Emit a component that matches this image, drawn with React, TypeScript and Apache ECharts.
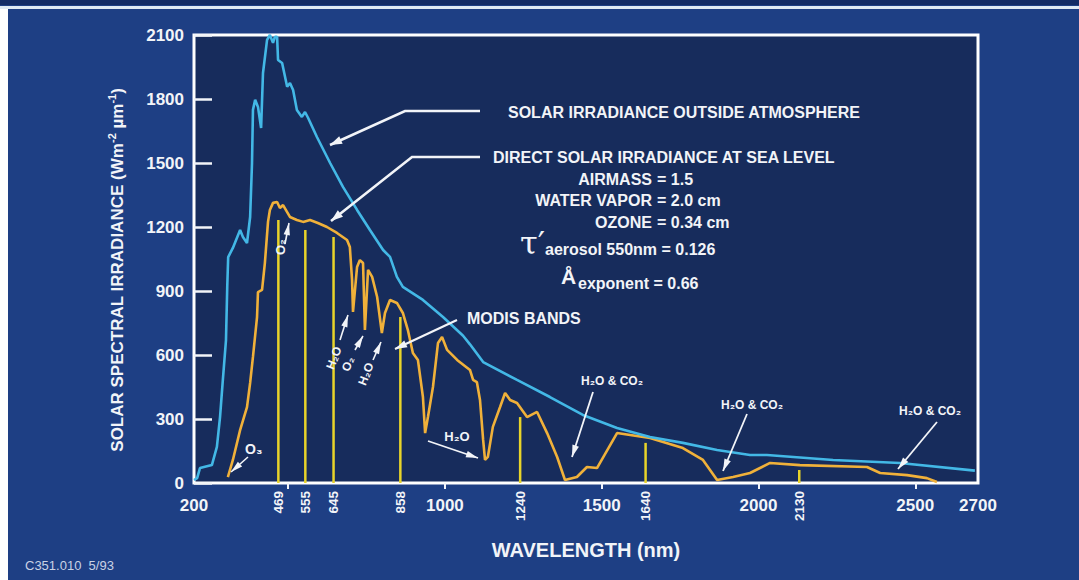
import React, { useEffect, useRef } from "react";
import * as echarts from "echarts";

// Solar irradiance outside the atmosphere (W m-2 µm-1)
const waveOutside = [200, 210, 219, 257, 273, 283, 292, 302, 306, 309, 324, 347, 356, 369, 379, 385, 388, 395, 404, 414, 420, 433, 442, 452, 458, 465, 468, 481, 497, 506, 516, 528, 544, 554, 564, 592, 634, 675, 720, 761, 803, 825, 847, 866, 930, 994, 1058, 1080, 1122, 1230, 1335, 1440, 1549, 1654, 1759, 1868, 1973, 2027, 2238, 2451, 2690];
const irrOutside = [14, 23, 70, 84, 169, 309, 483, 670, 919, 1059, 1102, 1186, 1153, 1125, 1247, 1500, 1749, 1796, 1763, 1664, 1922, 2077, 2100, 2063, 2091, 2091, 1983, 1969, 1857, 1875, 1842, 1749, 1716, 1739, 1711, 1622, 1500, 1388, 1280, 1186, 1092, 1060, 966, 919, 858, 778, 690, 650, 567, 483, 403, 319, 258, 216, 188, 155, 131, 131, 108, 94, 58];

// Direct solar irradiance at sea level
const waveSea = [308, 324, 347, 369, 379, 388, 401, 404, 417, 426, 436, 442, 452, 465, 474, 484, 497, 506, 528, 548, 570, 595, 624, 656, 688, 697, 704, 707, 720, 729, 739, 745, 755, 768, 784, 799, 809, 825, 847, 866, 882, 898, 914, 930, 937, 946, 962, 978, 991, 1007, 1039, 1080, 1090, 1102, 1112, 1122, 1128, 1137, 1153, 1176, 1192, 1208, 1230, 1262, 1294, 1326, 1358, 1383, 1421, 1453, 1485, 1549, 1654, 1759, 1823, 1868, 1919, 1973, 2037, 2132, 2346, 2388, 2474, 2537, 2569];
const irrSea = [28, 108, 248, 356, 469, 591, 778, 895, 905, 1031, 1224, 1280, 1313, 1317, 1289, 1303, 1270, 1247, 1233, 1224, 1233, 1219, 1200, 1172, 1139, 1106, 952, 802, 1013, 1045, 1031, 717, 999, 966, 872, 703, 797, 858, 844, 797, 717, 609, 577, 403, 234, 309, 450, 656, 684, 624, 577, 530, 483, 473, 389, 202, 108, 122, 263, 356, 422, 389, 375, 309, 333, 234, 122, 14, 28, 75, 70, 234, 211, 164, 108, 14, 28, 47, 94, 84, 75, 47, 37, 23, 5];

// MODIS band centres (nm) and the height of each band marker
const bandWave = [469, 555, 645, 858, 1240, 1640, 2130];
const bandTop = [1233, 1186, 1153, 778, 309, 188, 61];

// Axis ticks
const yTicks = { min: 0, max: 2100, interval: 300 };
const xLabelMain = [200, 1000, 1500, 2000, 2500, 2700];
const xTickMain = [500, 1000, 1500, 2000, 2500];

const FONT = '"Liberation Sans", Arial, Helvetica, sans-serif';
const WHITE = "#f2f4f8";
const plain = (v: number) => String(v);

function arrowHead(x1: number, y1: number, x2: number, y2: number, len = 11, hw = 3.2) {
  const dx = x2 - x1;
  const dy = y2 - y1;
  const d = Math.hypot(dx, dy) || 1;
  const ux = dx / d;
  const uy = dy / d;
  const bx = x2 - ux * len;
  const by = y2 - uy * len;
  return {
    type: "polygon",
    shape: { points: [[x2, y2], [bx - uy * hw, by + ux * hw], [bx + uy * hw, by - ux * hw]] },
    style: { fill: WHITE },
    z: 20,
  };
}

function arrow(points: number[][], width = 2) {
  const n = points.length;
  const [x1, y1] = points[n - 2];
  const [x2, y2] = points[n - 1];
  return [
    {
      type: "polyline",
      shape: { points },
      style: { stroke: WHITE, lineWidth: width, fill: null },
      z: 20,
    },
    arrowHead(x1, y1, x2, y2, 12, width + 1.6),
  ];
}

function label(text: string, x: number, y: number, size: number, opts: any = {}) {
  return {
    type: "text",
    x,
    y,
    rotation: opts.rotation || 0,
    z: 20,
    style: {
      text,
      fill: WHITE,
      font: `${opts.weight || "bold"} ${size}px ${opts.family || FONT}`,
      align: opts.align || "left",
      verticalAlign: "middle",
    },
  };
}

function buildGraphic() {
  const g: any[] = [];
  // page frame: dark band and light rule along the top, pale strip on the left
  g.push({ type: "rect", shape: { x: 0, y: 0, width: 1079, height: 5 }, style: { fill: "#132c66" }, z: 1 });
  g.push({ type: "rect", shape: { x: 0, y: 6, width: 1079, height: 3 }, style: { fill: "#dfeaf4" }, z: 1 });
  g.push({ type: "rect", shape: { x: 0, y: 9, width: 8, height: 571 }, style: { fill: "#ffffff" }, z: 1 });

  // curve captions
  g.push(label("SOLAR IRRADIANCE OUTSIDE ATMOSPHERE", 508, 112, 16));
  g.push(...arrow([[480, 111], [405, 111], [330, 145]], 2.6));
  g.push(label("DIRECT SOLAR IRRADIANCE AT SEA LEVEL", 493, 157, 16));
  g.push(...arrow([[480, 157], [412, 157], [331, 221]], 2.6));

  // atmospheric conditions
  const condNames = ["AIRMASS", "WATER VAPOR", "OZONE"];
  const condValues = ["= 1.5", "= 2.0 cm", "= 0.34 cm"];
  const condY = [179, 200, 222];
  condNames.forEach((n, i) => {
    g.push(label(n, 652, condY[i], 16, { align: "right" }));
    g.push(label(condValues[i], 657, condY[i], 16));
  });
  g.push(label("τ′", 520, 243, 32, { family: '"DejaVu Serif", "Liberation Serif", serif', weight: "normal" }));
  g.push(label("aerosol 550nm = 0.126", 545, 249, 16));
  g.push(label("Å", 561, 276, 21));
  g.push(label("exponent = 0.66", 578, 283, 16));

  // MODIS bands
  g.push(label("MODIS BANDS", 467, 318, 16));
  g.push(...arrow([[457, 320], [395, 349]], 2.2));

  // absorption features
  g.push(label("O₃", 245, 449, 14));
  g.push(...arrow([[248, 457], [231, 472]], 1.6));
  g.push(label("O₂", 280, 255, 13, { rotation: Math.PI / 2 }));
  g.push(...arrow([[285, 244], [289, 223]], 1.6));

  g.push(label("H₂O", 334, 358, 12, { rotation: 1.2, align: "center" }));
  g.push(...arrow([[340, 340], [348, 315]], 1.6));
  g.push(label("O₂", 348, 364, 12, { rotation: 1.2, align: "center" }));
  g.push(...arrow([[355, 350], [363, 336]], 1.6));
  g.push(label("H₂O", 366, 374, 12, { rotation: 1.2, align: "center" }));
  g.push(...arrow([[373, 360], [381, 342]], 1.6));

  g.push(label("H₂O", 457, 436, 13, { align: "center" }));
  g.push(...arrow([[428, 441], [478, 458]], 1.8));

  g.push(label("H₂O & CO₂", 612, 381, 12, { align: "center" }));
  g.push(...arrow([[593, 392], [572, 457]], 1.8));
  g.push(label("H₂O & CO₂", 752, 405, 12, { align: "center" }));
  g.push(...arrow([[747, 414], [723, 471]], 1.8));
  g.push(label("H₂O & CO₂", 930, 411, 12, { align: "center" }));
  g.push(...arrow([[937, 422], [898, 469]], 1.8));

  // drawing reference
  g.push({
    type: "text",
    x: 25,
    y: 565,
    style: { text: "C351.010  5/93", fill: "#c9d2e4", font: `13px ${FONT}`, verticalAlign: "middle" },
  });
  return g;
}

export default function App() {
  const ref = useRef<HTMLDivElement>(null);

  useEffect(() => {
    if (!ref.current) return;
    const chart = echarts.init(ref.current, null, { renderer: "svg" });

    const outside = waveOutside.map((w, i) => [w, irrOutside[i]]);
    const sea = waveSea.map((w, i) => [w, irrSea[i]]);
    const bands = bandWave.map((w, i) => [w, bandTop[i]]);

    const option: any = {
      animation: false,
      backgroundColor: "#1e3f84",
      grid: {
        left: 194,
        right: 101,
        top: 35,
        bottom: 97,
        show: true,
        borderColor: "#ffffff",
        borderWidth: 3,
        backgroundColor: "#172c5c",
      },
      xAxis: [
        {
          type: "value",
          min: 200,
          max: 2700,
          name: "WAVELENGTH (nm)",
          nameLocation: "middle",
          nameGap: 57,
          nameTextStyle: { color: WHITE, fontFamily: FONT, fontWeight: "bold", fontSize: 20 },
          axisLine: { show: false },
          splitLine: { show: false },
          axisTick: {
            show: true,
            customValues: xTickMain,
            length: 6,
            lineStyle: { color: WHITE, width: 2 },
          },
          axisLabel: {
            customValues: xLabelMain,
            formatter: plain,
            color: WHITE,
            fontFamily: FONT,
            fontWeight: "bold",
            fontSize: 17,
            margin: 14,
          },
        },
        {
          type: "value",
          min: 200,
          max: 2700,
          position: "bottom",
          axisLine: { show: false },
          splitLine: { show: false },
          axisTick: { show: false },
          axisLabel: {
            customValues: bandWave,
            formatter: plain,
            rotate: 90,
            color: WHITE,
            fontFamily: FONT,
            fontWeight: "bold",
            fontSize: 13.5,
            margin: 8,
          },
        },
      ],
      yAxis: {
        type: "value",
        min: yTicks.min,
        max: yTicks.max,
        interval: yTicks.interval,
        name: "SOLAR SPECTRAL IRRADIANCE (Wm{sup|-2} µm{sup|-1})",
        nameLocation: "middle",
        nameGap: 66,
        nameTextStyle: {
          color: WHITE,
          fontFamily: FONT,
          fontWeight: "bold",
          fontSize: 17,
          lineHeight: 22,
          padding: [0, 22, 0, 0],
          rich: {
            sup: {
              color: WHITE,
              fontFamily: FONT,
              fontWeight: "bold",
              fontSize: 11,
              lineHeight: 11,
              verticalAlign: "top",
            },
          },
        },
        axisLine: { show: false },
        splitLine: { show: false },
        axisTick: { show: true, inside: true, length: 18, lineStyle: { color: WHITE, width: 2.5 } },
        axisLabel: {
          formatter: plain,
          color: WHITE,
          fontFamily: FONT,
          fontWeight: "bold",
          fontSize: 17,
          margin: 10,
        },
      },
      series: [
        {
          name: "MODIS bands",
          type: "bar",
          xAxisIndex: 0,
          data: bands,
          barWidth: 2.5,
          itemStyle: { color: "#e8d42a" },
          z: 2,
        },
        {
          name: "Direct solar irradiance at sea level",
          type: "line",
          data: sea,
          showSymbol: false,
          symbol: "none",
          lineStyle: { color: "#f0b13a", width: 2.6 },
          z: 3,
        },
        {
          name: "Solar irradiance outside atmosphere",
          type: "line",
          data: outside,
          showSymbol: false,
          symbol: "none",
          lineStyle: { color: "#43b8e6", width: 2.6 },
          z: 4,
        },
      ],
      graphic: buildGraphic(),
    };

    chart.setOption(option);
    return () => chart.dispose();
  }, []);

  return (
    <div
      ref={ref}
      style={{ position: "absolute", left: 0, top: 0, width: 1079, height: 580 }}
    />
  );
}
